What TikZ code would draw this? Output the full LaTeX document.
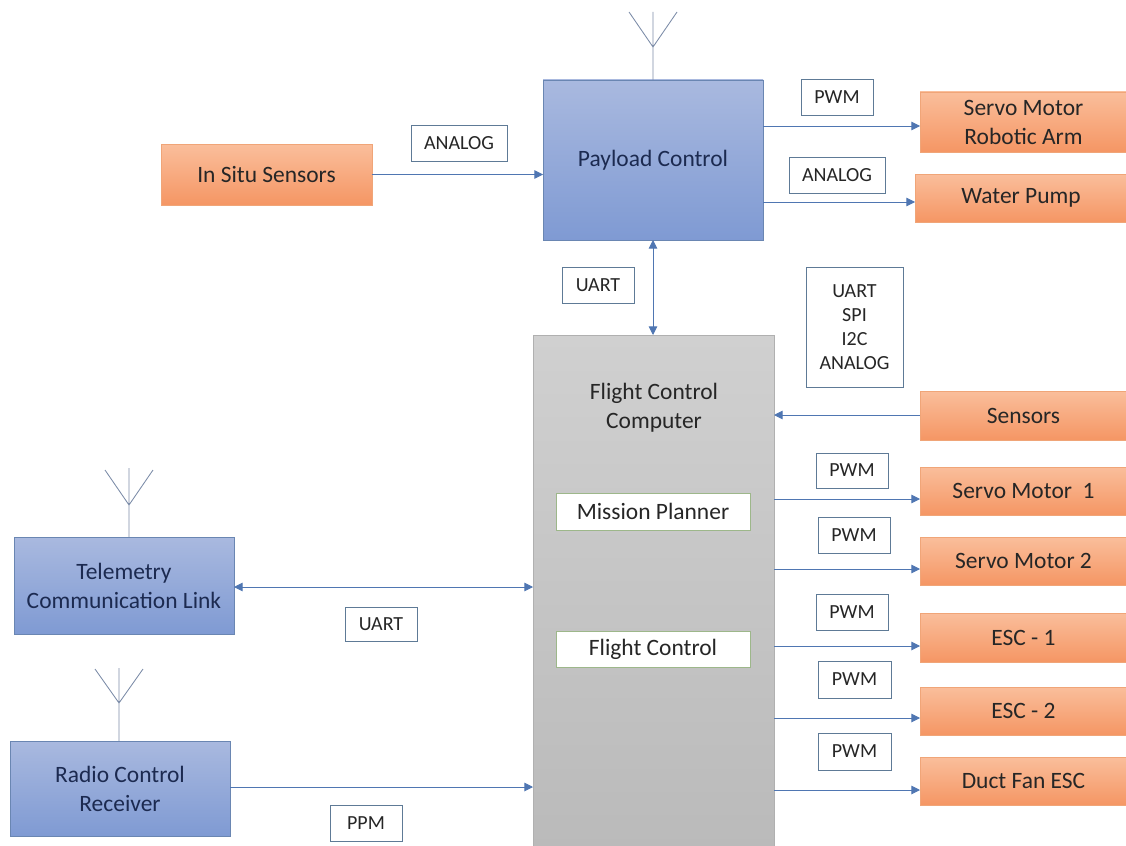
\documentclass[tikz,border=0pt]{standalone}
\usepackage{fontspec}
\setmainfont{Carlito}
\usetikzlibrary{arrows.meta}
\definecolor{connC}{HTML}{4F76B2}
\definecolor{antC}{HTML}{7C8CA8}
\definecolor{blueEdge}{HTML}{6A86B2}
\definecolor{orangeEdge}{HTML}{F0A578}
\definecolor{labelEdge}{HTML}{5E7A96}
\definecolor{greenEdge}{HTML}{9DB78A}
\definecolor{greyEdge}{HTML}{B0B0B0}
\definecolor{inkC}{HTML}{262626}
\definecolor{navyC}{HTML}{1C2A50}
\definecolor{blueTop}{HTML}{A9B9DF}
\definecolor{blueBot}{HTML}{7F9AD3}
\definecolor{orangeTop}{HTML}{FABE9B}
\definecolor{orangeBot}{HTML}{F59664}
\definecolor{greyTop}{HTML}{D0D0D0}
\definecolor{greyBot}{HTML}{BABABA}
\tikzset{
  anybox/.style={draw,line width=0.65pt,inner sep=0pt,outer sep=0pt,align=center,font=\fontsize{17.6}{21.75}\selectfont,text=inkC},
  bluebox/.style={anybox,draw=blueEdge,top color=blueTop,bottom color=blueBot,text=navyC},
  orangebox/.style={anybox,draw=orangeEdge,top color=orangeTop,bottom color=orangeBot},
  greybox/.style={anybox,draw=greyEdge,top color=greyTop,bottom color=greyBot},
  greenbox/.style={anybox,draw=greenEdge,fill=white},
  tagbox/.style={anybox,draw=labelEdge,fill=white,font=\fontsize{15}{18}\selectfont},
  conn/.style={draw=connC,line width=0.65pt,-{Triangle[length=6.5pt,width=6.5pt]}},
  twoway/.style={draw=connC,line width=0.65pt,{Triangle[length=6.5pt,width=6.5pt]}-{Triangle[length=6.5pt,width=6.5pt]}},
  antenna/.style={draw=antC,line width=0.65pt},
}
\newcommand\bx[7]{%
  \pgfmathsetlengthmacro\bxw{(#5-#3)*0.75}%
  \pgfmathsetlengthmacro\bxh{(#6-#4)*0.75}%
  \node[#1,minimum width=\bxw,minimum height=\bxh] (#2) at ({(#3+#5)/2},{(#4+#6)/2}) {#7};}
\begin{document}
\begin{tikzpicture}[x=0.75pt,y=-0.75pt]
\useasboundingbox (0,0) rectangle (1126,845);
% main blocks
\bx{bluebox}{payload}{543}{80}{763}{240}{Payload Control}
\bx{orangebox}{insitu}{161}{144}{372}{205}{In Situ Sensors}
\bx{orangebox}{arm}{920}{92}{1127}{152}{Servo Motor\\Robotic Arm}
\bx{orangebox}{pump}{915}{174}{1127}{222}{Water Pump}
\bx{greybox}{fcc}{533}{335}{774}{850}{}
\node[font=\fontsize{17.6}{21.75}\selectfont,text=inkC,align=center,inner sep=0pt] (fcctext) at (654,408) {Flight Control\\Computer};
\bx{greenbox}{mission}{556}{493}{750}{530}{Mission Planner}
\bx{greenbox}{flight}{556}{631}{750}{667}{Flight Control}
\bx{orangebox}{sensors}{920}{391}{1127}{440}{Sensors}
\bx{orangebox}{servoa}{920}{467}{1127}{515}{Servo Motor\ \ 1}
\bx{orangebox}{servob}{920}{537}{1127}{585}{Servo Motor 2}
\bx{orangebox}{esca}{920}{613}{1127}{662}{ESC - 1}
\bx{orangebox}{escb}{920}{687}{1127}{735}{ESC - 2}
\bx{orangebox}{duct}{920}{757}{1127}{805}{Duct Fan ESC}
\bx{bluebox}{telem}{14}{537}{234}{634}{Telemetry\\Communication Link}
\bx{bluebox}{radio}{10}{741}{230}{836}{Radio Control\\Receiver}
% signal tags
\bx{tagbox}{t1}{411}{125}{507}{161}{ANALOG}
\bx{tagbox}{t2}{801}{79}{873}{115}{PWM}
\bx{tagbox}{t3}{789}{157}{885}{193}{ANALOG}
\bx{tagbox}{t4}{562}{267}{634}{303}{UART}
\bx{tagbox}{t5}{806}{267}{903}{387}{UART\\SPI\\I2C\\ANALOG}
\bx{tagbox}{t6}{816}{453}{888}{488}{PWM}
\bx{tagbox}{t7}{818}{517}{890}{553}{PWM}
\bx{tagbox}{t8}{816}{594}{888}{630}{PWM}
\bx{tagbox}{t9}{818}{661}{891}{698}{PWM}
\bx{tagbox}{t10}{818}{733}{891}{770}{PWM}
\bx{tagbox}{t11}{345}{607}{417}{641}{UART}
\bx{tagbox}{t12}{330}{805}{402}{841}{PPM}
% connectors
\draw[conn] (insitu.east) -- (payload.west |- insitu.east);
\draw[conn] (payload.east |- 0,126) -- (arm.west |- 0,126);
\draw[conn] (payload.east |- 0,202) -- (pump.west |- 0,202);
\draw[twoway] (payload.south -| 653,0) -- (fcc.north -| 653,0);
\draw[conn] (sensors.west |- 0,415) -- (fcc.east |- 0,415);
\draw[conn] (fcc.east |- 0,499) -- (servoa.west |- 0,499);
\draw[conn] (fcc.east |- 0,569) -- (servob.west |- 0,569);
\draw[conn] (fcc.east |- 0,646) -- (esca.west |- 0,646);
\draw[conn] (fcc.east |- 0,718) -- (escb.west |- 0,718);
\draw[conn] (fcc.east |- 0,790) -- (duct.west |- 0,790);
\draw[twoway] (telem.east |- 0,587) -- (fcc.west |- 0,587);
\draw[conn] (radio.east |- 0,787) -- (fcc.west |- 0,787);
% antennas
\coordinate (a1) at (653,47);
\draw[antenna] (payload.north -| a1) -- (653,12) (629,12) -- (a1) -- (677,12);
\coordinate (a2) at (129,505);
\draw[antenna] (telem.north -| a2) -- (129,468) (105,470) -- (a2) -- (153,470);
\coordinate (a3) at (119,703);
\draw[antenna] (radio.north -| a3) -- (119,668) (95,669) -- (a3) -- (143,669);
\end{tikzpicture}
\end{document}
